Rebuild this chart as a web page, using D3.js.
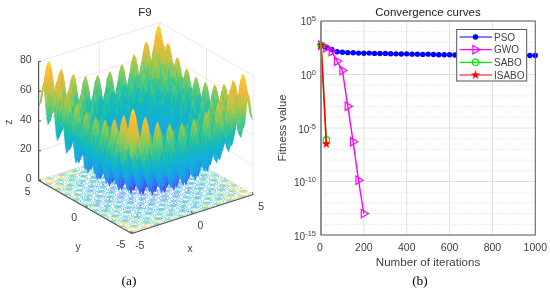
<!DOCTYPE html>
<html><head><meta charset="utf-8">
<script src="https://cdn.jsdelivr.net/npm/d3@7"></script>
<style>html,body{margin:0;padding:0;background:#fff}svg{display:block;filter:blur(.35px)}text{font-family:"Liberation Sans",Arial,sans-serif}</style>
</head><body><svg id="c" width="550" height="294"></svg>
<script>
// --- panel (a): cross-section of the surface, read every 0.125 from x=-5 to x=5
const sectionHalf = [25,26.7,32.56,38.46,40.25,36.21,28.06,19.95,16,17.95,24.06,30.21,32.25,28.46,20.56,12.7,9,11.2,17.56,23.96,26.25,22.71,15.06,7.45,4,6.45,13.06,19.71,22.25,18.96,11.56,4.2,1,3.7,10.56,17.46,20.25,17.21,10.06,2.95,0];
const sectionCoords = d3.range(-40,41).map(k=>k/8);
const section = sectionHalf.concat(sectionHalf.slice(0,40).reverse());
const zTicks = [0,20,40,60,80];
const xyTicks = [-5,0,5];
const contourLevels = [10,20,30,40,50,60,70];
const parulaStops = ["#3e26a8","#4752f4","#2f7ff7","#1e9cea","#15aede","#10b8c2","#3bc68c","#8acb58","#d8bf3c","#fbb83a","#f9e020"];

// --- panel (b)
const iterTicks = [0,200,400,600,800,1000];
const logTicks = [5,0,-5,-10,-15];
const psoIter = d3.range(0,41).map(k=>Math.max(1,k*25));
const psoLog = [2.74,2.55,2.33,2.13,2.08,2.04,2.03,2.0,1.98,2.0,1.97,1.96,1.97,1.94,1.93,1.92,1.93,1.9,1.9,1.88,1.9,1.87,1.85,1.84,1.85,1.82,1.81,1.82,1.8,1.82,1.8,1.79,1.8,1.78,1.79,1.78,1.78,1.77,1.78,1.77,1.77];
const gwoIter = [1,25,50,75,100,125,150,175,200];
const gwoLog = [2.74,2.5,2.15,1.24,0.37,-2.96,-6.29,-9.88,-13];
const saboIter = [1,25];
const saboLog = [2.74,-6.1];
const isaboIter = [1,25];
const isaboLog = [2.74,-6.5];
const legendNames = ["PSO","GWO","SABO","ISABO"];

const svg = d3.select("#c");
const txt = "#404040";

/* ===== Panel a ===== */
const sx = {px:d3.scaleLinear().domain([-5,5]).range([-60.65,60.65]), py:d3.scaleLinear().domain([-5,5]).range([19.5,-19.5])};
const sy = {px:d3.scaleLinear().domain([-5,5]).range([46.6,-46.6]), py:d3.scaleLinear().domain([-5,5]).range([26.5,-26.5])};
const sz = d3.scaleLinear().domain([0,80]).range([0,-119]);
const P = (x,y,z)=>[145.85+sx.px(x)+sy.px(y), 187.5+sx.py(x)+sy.py(y)+sz(z)];
const parula = d3.scaleLinear().domain(d3.range(11).map(k=>k*8)).range(parulaStops).clamp(true);
const A = svg.append("g");
const line3 = (a,b,col,w)=>A.append("line").attr("x1",P(...a)[0]).attr("y1",P(...a)[1]).attr("x2",P(...b)[0]).attr("y2",P(...b)[1]).attr("stroke",col).attr("stroke-width",w);
const gridC = "#e2e2e2";
zTicks.forEach(z=>{ line3([-5,5,z],[5,5,z],gridC,.8); line3([5,5,z],[5,-5,z],gridC,.8); });
xyTicks.forEach(t=>{
  line3([t,5,0],[t,5,80],gridC,.8); line3([5,t,0],[5,t,80],gridC,.8);
  line3([t,-5,0],[t,5,0],gridC,.8); line3([-5,t,0],[5,t,0],gridC,.8);
});
// contours on floor
const n = section.length;
const table = [];
for(let j=0;j<n;j++) for(let i=0;i<n;i++) table.push(section[i]+section[j]);
const toX = v=>(v-.5)/(n-1)*10-5;
const contours = d3.contours().size([n,n]).thresholds(contourLevels)(table);
const atEdge = p=>p[0]<=0.51||p[0]>=n-.51||p[1]<=0.51||p[1]>=n-.51;
contours.forEach(c=>{
  let d="";
  c.coordinates.forEach(poly=>poly.forEach(ring=>{
    for(let k=1;k<ring.length;k++){
      if(atEdge(ring[k-1])&&atEdge(ring[k])) continue;
      const a=P(toX(ring[k-1][0]),toX(ring[k-1][1]),0), b=P(toX(ring[k][0]),toX(ring[k][1]),0);
      d+=`M${a[0].toFixed(2)},${a[1].toFixed(2)}L${b[0].toFixed(2)},${b[1].toFixed(2)}`;
    }
  }));
  A.append("path").attr("d",d).attr("fill","none").attr("stroke",parula(c.value)).attr("stroke-width",.6);
});
// surface, far quads first
const surf = A.append("g");
const quads=[];
for(let i=n-2;i>=0;i--) for(let j=n-2;j>=0;j--) quads.push([i,j]);
quads.sort((a,b)=>(b[0]+b[1])-(a[0]+a[1]));
surf.selectAll("path").data(quads).join("path")
 .attr("d",([i,j])=>{
   const c=[[i,j],[i+1,j],[i+1,j+1],[i,j+1]].map(([a,b])=>P(sectionCoords[a],sectionCoords[b],section[a]+section[b]));
   return "M"+c.map(p=>p[0].toFixed(2)+","+p[1].toFixed(2)).join("L")+"Z";
 })
 .each(function([i,j]){
   const z=(section[i]+section[j]+section[i+1]+section[j]+section[i+1]+section[j+1]+section[i]+section[j+1])/4;
   const col=parula(z);
   d3.select(this).attr("fill",col).attr("stroke",col).attr("stroke-width",.35);
 });
// axes
const axC="#555";
line3([-5,5,0],[-5,5,80],axC,1.2);
line3([-5,5,0],[-5,-5,0],axC,1.1);
line3([-5,-5,0],[5,-5,0],axC,1.1);
zTicks.forEach(z=>{ const p=P(-5,5,z);
  A.append("line").attr("x1",p[0]).attr("x2",p[0]+2.5).attr("y1",p[1]).attr("y2",p[1]).attr("stroke",axC);
  A.append("text").attr("x",p[0]-7).attr("y",p[1]-2+3.5).attr("text-anchor","end").attr("font-size",10.5).attr("fill",txt).text(z);
});
xyTicks.forEach(t=>{
  const a=P(t,-5,0), b=P(-5,t,0);
  A.append("line").attr("x1",a[0]).attr("y1",a[1]).attr("x2",a[0]-1).attr("y2",a[1]-2.5).attr("stroke",axC);
  A.append("line").attr("x1",b[0]).attr("y1",b[1]).attr("x2",b[0]+2).attr("y2",b[1]-1).attr("stroke",axC);
  A.append("text").attr("x",a[0]+8).attr("y",a[1]+15).attr("text-anchor","middle").attr("font-size",10.5).attr("fill",txt).text(t);
  A.append("text").attr("x",b[0]-11).attr("y",b[1]+14).attr("text-anchor","middle").attr("font-size",10.5).attr("fill",txt).text(t);
});
const label=(g,x,y,s,size,opt={})=>g.append("text").attr("x",x).attr("y",y).attr("text-anchor",opt.anchor||"middle").attr("font-size",size).attr("fill",opt.fill||txt).attr("transform",opt.rot?`rotate(${opt.rot} ${x} ${y})`:null).attr("style",opt.family?`font-family:${opt.family}`:null).text(s);
label(A,145,15.5,"F9",11.5,{fill:"#222"});
label(A,12,122,"z",10.5,{rot:-90});
label(A,190,252,"x",10.5);
label(A,78,250,"y",10.5);
label(A,129,285,"(a)",13.5,{fill:"#000",family:"'Liberation Serif',serif"});

/* ===== Panel b ===== */
const B = svg.append("g");
const x = d3.scaleLinear().domain([0,1000]).range([321,535.3]);
const y = d3.scaleLinear().domain([-15,5]).range([235,21]);
d3.range(-15,6).filter(v=>v%5!==0).forEach(v=>B.append("line").attr("x1",x(0)).attr("x2",x(1000)).attr("y1",y(v)).attr("y2",y(v)).attr("stroke","#cfcfcf").attr("stroke-width",.9).attr("stroke-dasharray","1 2.2"));
logTicks.forEach(v=>B.append("line").attr("x1",x(0)).attr("x2",x(1000)).attr("y1",y(v)).attr("y2",y(v)).attr("stroke","#e0e0e0").attr("stroke-width",1));
iterTicks.forEach(v=>B.append("line").attr("x1",x(v)).attr("x2",x(v)).attr("y1",y(-15)).attr("y2",y(5)).attr("stroke","#e0e0e0").attr("stroke-width",1));
const lineGen = d3.line();
const series=[
 {it:psoIter,lg:psoLog,c:"#0000ff",w:1.4},
 {it:gwoIter,lg:gwoLog,c:"#ff00ff",w:1.4},
 {it:saboIter,lg:saboLog,c:"#00ee00",w:1.1},
 {it:isaboIter,lg:isaboLog,c:"#ff0000",w:1.6}
];
const star=d3.symbol().type(d3.symbolStar).size(20)();
const marker=(g,k,px,py)=>{
  const c=series[k].c;
  if(k===0) g.append("circle").attr("cx",px).attr("cy",py).attr("r",2.7).attr("fill",c);
  if(k===1) g.append("path").attr("d","M-2.6,-4.2L4.6,0L-2.6,4.2Z").attr("transform",`translate(${px},${py})`).attr("fill","none").attr("stroke",c).attr("stroke-width",1.2);
  if(k===2) g.append("circle").attr("cx",px).attr("cy",py).attr("r",3.2).attr("fill","none").attr("stroke",c).attr("stroke-width",1.2);
  if(k===3) g.append("path").attr("d",star).attr("transform",`translate(${px},${py})`).attr("fill",c).attr("stroke",c).attr("stroke-width",.5);
};
series.forEach((s,k)=>{
  const pts=s.it.map((t,i)=>[x(t),y(s.lg[i])]);
  B.append("path").attr("d",lineGen(pts)).attr("fill","none").attr("stroke",s.c).attr("stroke-width",s.w);
  pts.forEach(p=>marker(B,k,p[0],p[1]));
});
// frame
B.append("rect").attr("x",x(0)).attr("y",y(5)).attr("width",x(1000)-x(0)).attr("height",y(-15)-y(5)).attr("fill","none").attr("stroke","#606060").attr("stroke-width",1);
B.append("line").attr("x1",x(0)).attr("x2",x(0)).attr("y1",y(5)).attr("y2",y(-15)).attr("stroke","#8a8a8a").attr("stroke-width",1.6);
iterTicks.forEach(v=>label(B,x(v)-(v===0?1:0),250.5,v,10.5));
logTicks.forEach(v=>{
  const t=B.append("text").attr("x",316).attr("y",y(v)+3.5+(v===5?0:1)).attr("text-anchor","end").attr("font-size",10).attr("fill",txt);
  t.append("tspan").text("10");
  t.append("tspan").attr("dy",-4).attr("font-size",7.5).text(v);
});
label(B,428,15.5,"Convergence curves",11.5,{fill:"#222"});
label(B,428,266,"Number of iterations",11.6);
label(B,286,128,"Fitness value",11.4,{rot:-90});
label(B,420,285,"(b)",13.5,{fill:"#000",family:"'Liberation Serif',serif"});
// legend
B.append("rect").attr("x",456.7).attr("y",29.5).attr("width",70).attr("height",51.5).attr("fill","#fff").attr("stroke","#555").attr("stroke-width",1);
const rowY=d3.scalePoint().domain(legendNames).range([37,75]);
legendNames.forEach((nm,k)=>{
  const yy=rowY(nm);
  B.append("line").attr("x1",459.5).attr("x2",492).attr("y1",yy).attr("y2",yy).attr("stroke",series[k].c).attr("stroke-width",1.2);
  marker(B,k,475.5,yy);
  label(B,494,yy+3.5,nm,10,{anchor:"start"});
});
</script></body></html>
